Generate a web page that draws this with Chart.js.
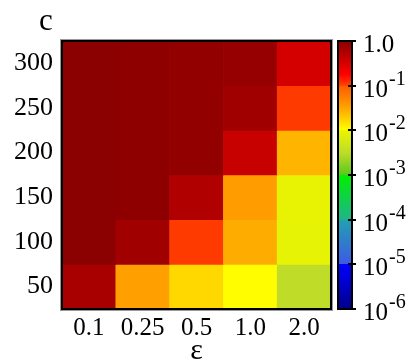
<!DOCTYPE html>
<html>
<head>
<meta charset="utf-8">
<script src="https://cdn.jsdelivr.net/npm/chart.js@4.4.0/dist/chart.umd.min.js"></script>
<style>
  html, body { margin: 0; padding: 0; background: #fff; }
  #wrap { position: relative; width: 411px; height: 360px; overflow: hidden; }
  #heat { position: absolute; left: 0; top: 0; }
  #bar { position: absolute; left: 330px; top: 0; }
</style>
</head>
<body>
<div id="wrap">
  <canvas id="heat" width="411" height="360"></canvas>
  <canvas id="bar" width="81" height="360"></canvas>
</div>
<script>
const epsLabels = ['0.1', '0.25', '0.5', '1.0', '2.0'];
const cValues = [300, 250, 200, 150, 100, 50];
const cHalf = 25; // media altura de cada celda (en unidades de c)

const row300 = [0.96, 0.92, 0.87, 0.82, 0.33];
const row250 = [0.96, 0.92, 0.87, 0.71, 0.11];
const row200 = [0.96, 0.92, 0.87, 0.40, 0.026];
const row150 = [0.96, 0.92, 0.56, 0.036, 0.0093];
const row100 = [0.96, 0.71, 0.11, 0.029, 0.0090];
const row50  = [0.63, 0.034, 0.0165, 0.0102, 0.0032];
const rows = [row300, row250, row200, row150, row100, row50];

// barra de color
const barRange = [1e-6, 1];
const barTickValues = [1, 1e-1, 1e-2, 1e-3, 1e-4, 1e-5, 1e-6];
const barTickBase = ['1.0', '10', '10', '10', '10', '10', '10'];
const barTickSup = ['', '-1', '-2', '-3', '-4', '-5', '-6'];

// --- mapa de colores (por decada, con saltos) ---
const cmapStops = [
  [0, '#880000'],
  [-0.75, '#ff0000'],
  [-1, '#ff4600'],
  [-1, '#ff5a00'],
  [-1.5, '#ffa500'],
  [-2, '#ffff00'],
  [-2, '#ebf500'],
  [-2.5, '#bedc28'],
  [-3, '#5ac81e'],
  [-3, '#00f000'],
  [-4, '#1eb48c'],
  [-4, '#22a0b0'],
  [-5, '#3c5ae6'],
  [-5, '#0000ff'],
  [-6, '#000088']
];

const hexToRgb = (h) => [1, 3, 5].map(i => parseInt(h.slice(i, i + 2), 16));

const valueToColor = (v) => {
  const t = Math.log10(v);
  for (let i = 0; i < cmapStops.length - 1; i++) {
    const [t0, c0] = cmapStops[i];
    const [t1, c1] = cmapStops[i + 1];
    if (t <= t0 && t >= t1 && t0 !== t1) {
      const f = (t0 - t) / (t0 - t1);
      const a = hexToRgb(c0), b = hexToRgb(c1);
      const rgb = a.map((x, k) => Math.round(x + (b[k] - x) * f));
      return `rgb(${rgb.join(',')})`;
    }
  }
  return t > 0 ? cmapStops[0][1] : cmapStops[cmapStops.length - 1][1];
};

const serif = 'Liberation Serif';

// borde negro del area y etiqueta "c"
const heatFrame = {
  id: 'heatFrame',
  afterDraw(chart) {
    const { ctx, chartArea: a } = chart;
    ctx.save();
    ctx.strokeStyle = '#999';
    ctx.lineWidth = 1;
    ctx.strokeRect(a.left - 1.5, a.top - 1.5, a.right - a.left + 3, a.bottom - a.top + 3);
    ctx.strokeStyle = '#000';
    ctx.lineWidth = 2;
    ctx.strokeRect(a.left, a.top, a.right - a.left, a.bottom - a.top);
    ctx.fillStyle = '#000';
    ctx.font = `31px "${serif}"`;
    ctx.textAlign = 'center';
    ctx.textBaseline = 'alphabetic';
    ctx.fillText('c', 46, 30);
    ctx.restore();
  }
};

new Chart(document.getElementById('heat'), {
  type: 'bar',
  data: {
    labels: epsLabels,
    datasets: rows.map((vals, r) => ({
      label: 'c = ' + cValues[r],
      data: vals.map(() => [cValues[r] - cHalf, cValues[r] + cHalf]),
      backgroundColor: vals.map(valueToColor),
      borderWidth: 0,
      barPercentage: 1,
      categoryPercentage: 1
    }))
  },
  options: {
    responsive: false,
    animation: false,
    layout: { padding: { top: 41, right: 80, left: 0, bottom: 0 } },
    plugins: { legend: { display: false }, tooltip: { enabled: false } },
    scales: {
      x: {
        stacked: true,
        grid: { display: false, drawTicks: false },
        border: { display: false },
        ticks: { color: '#000', font: { family: serif, size: 25 }, padding: 4 },
        title: {
          display: true, text: 'ε', color: '#000', padding: 0,
          font: { family: serif, size: 30, lineHeight: 0.6 }
        },
        afterFit: (s) => { s.height = 51; }
      },
      y: {
        min: 25,
        max: 325,
        grid: { display: false, drawTicks: false },
        border: { display: false },
        afterBuildTicks: (s) => { s.ticks = cValues.map(v => ({ value: v })); },
        ticks: { color: '#000', font: { family: serif, size: 26 }, padding: 9 },
        afterFit: (s) => { s.width = 62; }
      }
    }
  },
  plugins: [heatFrame]
});

// --- barra de color ---
const barGradient = (context) => {
  const chart = context.chart;
  const a = chart.chartArea;
  if (!a) return '#800000';
  const y = chart.scales.y;
  const g = chart.ctx.createLinearGradient(0, a.top, 0, a.bottom);
  cmapStops.forEach(([t, col]) => {
    const off = (y.getPixelForValue(Math.pow(10, t)) - a.top) / (a.bottom - a.top);
    g.addColorStop(Math.min(1, Math.max(0, off)), col);
  });
  return g;
};

const barFrame = {
  id: 'barFrame',
  afterDraw(chart) {
    const { ctx, chartArea: a } = chart;
    const y = chart.scales.y;
    ctx.save();
    ctx.strokeStyle = '#000';
    ctx.lineWidth = 2;
    ctx.strokeRect(a.left, a.top, a.right - a.left, a.bottom - a.top);
    ctx.fillStyle = '#000';
    barTickValues.forEach((v, i) => {
      const py = Math.round(y.getPixelForValue(v));
      ctx.beginPath();
      ctx.moveTo(a.right - 4, py);
      ctx.lineTo(a.right + 4, py);
      ctx.stroke();
      const x0 = 33;
      ctx.textAlign = 'left';
      ctx.textBaseline = 'middle';
      ctx.font = `25px "${serif}"`;
      ctx.fillText(barTickBase[i], x0, py + 4);
      if (barTickSup[i]) {
        const w = ctx.measureText(barTickBase[i]).width;
        ctx.font = `20px "${serif}"`;
        ctx.fillText(barTickSup[i], x0 + w + 1, py - 6);
      }
    });
    ctx.restore();
  }
};

new Chart(document.getElementById('bar'), {
  type: 'bar',
  data: {
    labels: [''],
    datasets: [{
      data: [barRange],
      backgroundColor: barGradient,
      borderWidth: 0,
      barPercentage: 1,
      categoryPercentage: 1
    }]
  },
  options: {
    responsive: false,
    animation: false,
    layout: { padding: { top: 41, bottom: 51, left: 8, right: 59 } },
    plugins: { legend: { display: false }, tooltip: { enabled: false } },
    scales: {
      x: { display: false },
      y: { type: 'logarithmic', min: barRange[0], max: barRange[1], display: false }
    }
  },
  plugins: [barFrame]
});
</script>
</body>
</html>
